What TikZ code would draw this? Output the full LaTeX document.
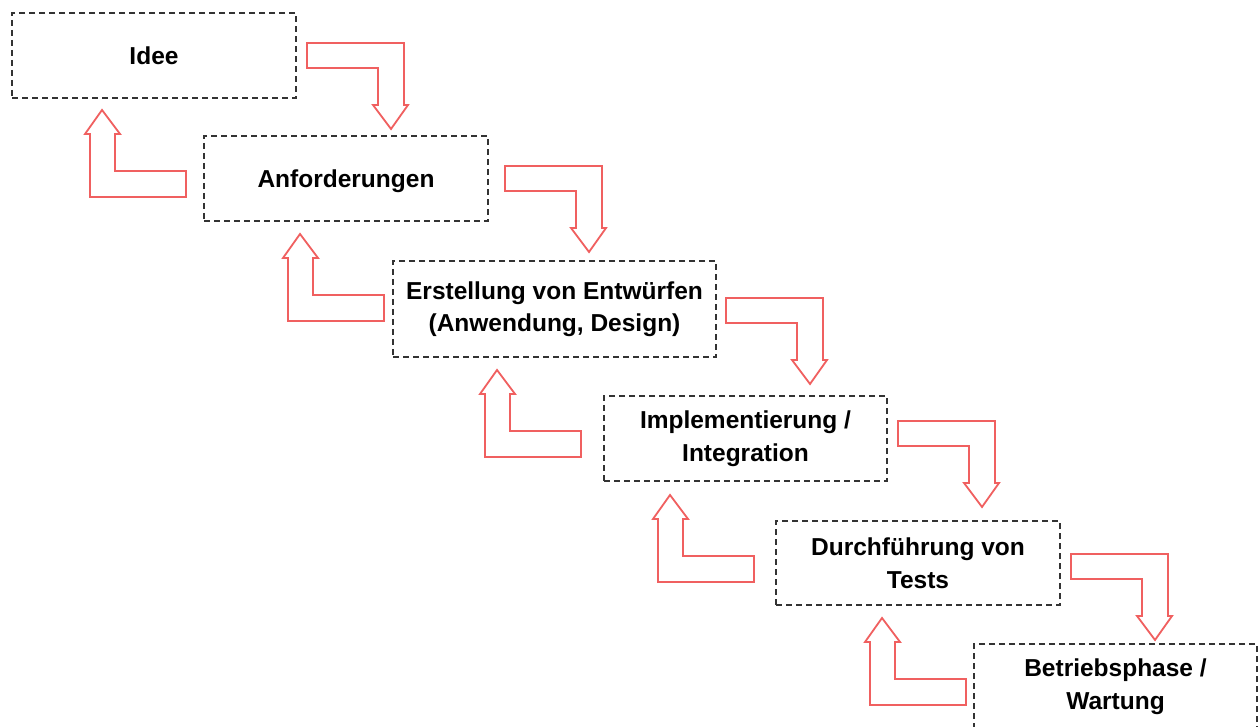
\documentclass[tikz,border=0pt]{standalone}
\usepackage{fontspec}
\setmainfont{Liberation Sans}
\begin{document}
\begin{tikzpicture}[x=1pt,y=-1pt,
  phase/.style={draw=black!80, line width=1.4pt, dash pattern=on 6pt off 4pt,
    rectangle, inner sep=0pt, align=center,
    font=\bfseries\fontsize{24.5}{32.5}\selectfont},
  oneline/.style={text height=18pt, text depth=0pt},
  blockarrow/.style={draw={rgb,255:red,240;green,96;blue,96}, line width=1.8pt,
    line join=miter, fill=white},
  downstep/.pic={\path[blockarrow] (0,0) -- (97,0) -- (97,62) -- (101,62) -- (84,86)
      -- (66,62) -- (71,62) -- (71,25) -- (0,25) -- cycle;},
  upstep/.pic={\path[blockarrow] (0,0) -- (18,24) -- (13,24) -- (13,61) -- (84,61)
      -- (84,87) -- (-12,87) -- (-12,24) -- (-17,24) -- cycle;}
]
\clip (0,0) rectangle (1259,727);
\fill[white] (0,0) rectangle (1259,727);

% phase boxes
\node[phase, oneline, minimum width=284pt, minimum height=85pt] (idee) at (154,55.5) {Idee};
\node[phase, oneline, minimum width=284pt, minimum height=85pt] (anf) at (346,178.5) {Anforderungen};
\node[phase, minimum width=323pt, minimum height=96pt] (entw) at (554.5,309)
  {Erstellung von Entwürfen\\(Anwendung, Design)};
\node[phase, minimum width=283pt, minimum height=85pt] (impl) at (745.5,438.5)
  {Implementierung /\\Integration};
\node[phase, minimum width=284pt, minimum height=84pt] (test) at (918,563)
  {Durchführung von\\Tests};
\node[phase, minimum width=283pt, minimum height=85pt] (betr) at (1115.5,686.5)
  {Betriebsphase /\\Wartung};

% forward steps
\coordinate (d1) at (307,43);
\coordinate (d2) at (505,166);
\coordinate (d3) at (726,298);
\coordinate (d4) at (898,421);
\coordinate (d5) at (1071,554);
\foreach \c in {d1,d2,d3,d4,d5} \pic at (\c) {downstep};

% feedback steps
\coordinate (u1) at (102,110);
\coordinate (u2) at (300,234);
\coordinate (u3) at (497,370);
\coordinate (u4) at (670,495);
\coordinate (u5) at (882,618);
\foreach \c in {u1,u2,u3,u4,u5} \pic at (\c) {upstep};
\end{tikzpicture}
\end{document}
